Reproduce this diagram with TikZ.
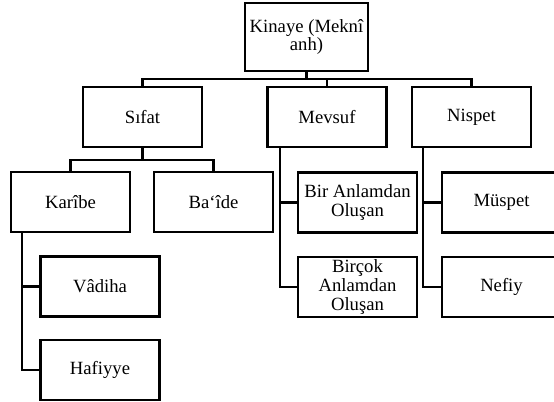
\documentclass[tikz,border=0pt]{standalone}
\usepackage{fontspec}
\setmainfont{Liberation Serif}

\begin{document}
\begin{tikzpicture}[x=0.75pt, y=-0.75pt, line width=1.8pt,
        kutu/.style={draw, line width=1.8pt, minimum width=89pt, minimum height=45pt,
            align=center, inner sep=2pt, font=\fontsize{14}{14}\selectfont}]

    \useasboundingbox (0,0) rectangle (554,402);

    % --- kök ---
    \node[kutu, minimum width=92pt, minimum height=51pt] (kinaye) at (306.5,37) {Kinaye (Meknî\\anh)};

    % --- birinci düzey ---
    \foreach \ad/\x/\yazi in {sifat/142.5/Sıfat, mevsuf/327/Mevsuf, nispet/471.5/Nispet} {
        \node[kutu] (\ad) at (\x,117) {\yazi};
    }

    % --- ikinci düzey ---
    \node[kutu] (karibe) at (70.5,202) {Karîbe};
    \node[kutu] (baide)  at (213.5,202) {Ba‘îde};
    \node[kutu] (vadiha)  at (100,286.5) {Vâdiha};
    \node[kutu] (hafiyye) at (100,370) {Hafiyye};
    \node[kutu] (bir)    at (357.5,202.5) {Bir Anlamdan\\Oluşan};
    \node[kutu] (bircok) at (357.5,287) {Birçok\\Anlamdan\\Oluşan};
    \node[kutu] (muspet) at (501.5,202.5) {Müspet};
    \node[kutu] (nefiy)  at (501.5,287) {Nefiy};

    % --- bağlantılar ---
    \foreach \c in {sifat, mevsuf, nispet} {
        \draw (kinaye.south) -- ++(0,7) -| (\c.north);
    }
    \foreach \c in {karibe, baide} {
        \draw (sifat.south) -- ++(0,12) -| (\c.north);
    }
    \foreach \c in {vadiha, hafiyye} {
        \draw ([xshift=9pt]karibe.south west) |- (\c.west);
    }
    \foreach \c in {bir, bircok} {
        \draw ([xshift=10pt]mevsuf.south west) |- (\c.west);
    }
    \foreach \c in {muspet, nefiy} {
        \draw ([xshift=9pt]nispet.south west) |- (\c.west);
    }

\end{tikzpicture}
\end{document}
